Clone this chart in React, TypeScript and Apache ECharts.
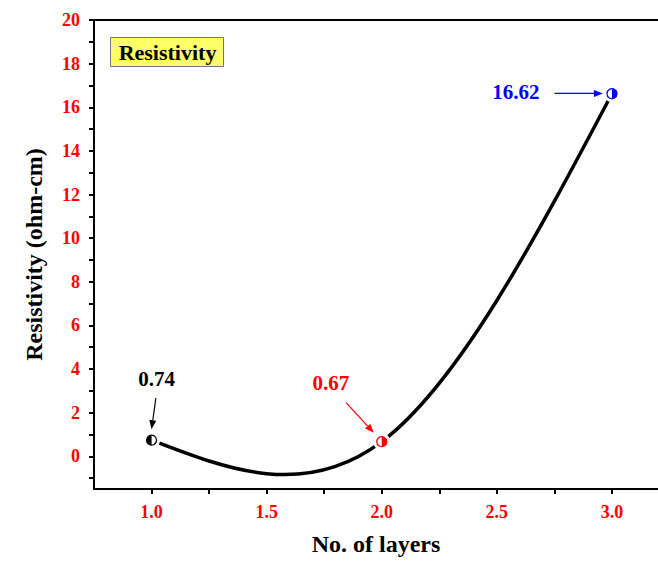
import React, { useEffect, useRef } from "react";
import * as echarts from "echarts";

// ---- data ----
const layers = [1, 2, 3];
const resistivity = [0.74, 0.67, 16.62];
const pointLabels = ["0.74", "0.67", "16.62"];
const pointColors = ["#000000", "#ff0000", "#0000ff"];
const xTickLabels = ["1.0", "1.5", "2.0", "2.5", "3.0"];
const yTickLabels = ["0", "2", "4", "6", "8", "10", "12", "14", "16", "18", "20"];
const legendText = "Resistivity";
const xName = "No. of layers";
const yName = "Resistivity (ohm-cm)";

// ---- style / layout (pixel offsets of annotations relative to their point) ----
const FONT = '"Liberation Serif", "Times New Roman", serif';
const ANNOT = [
  { tx: 5, ty: -61, ax1: 4.3, ay1: -42, ax2: 0, ay2: -11 },
  { tx: -51, ty: -59, ax1: -35.7, ay1: -39, ax2: -8, ay2: -9 },
  { tx: -96, ty: -1.3, ax1: -57.5, ay1: -0.3, ax2: -9, ay2: -0.3 },
];
// filled half of each marker: "left" or "right"
const HALF = ["left", "right", "right"];

// natural cubic spline moments (second derivatives) through the data points
function splineMoments(xs: number[], ys: number[]) {
  const n = xs.length;
  const M = new Array(n).fill(0);
  if (n < 3) return M;
  const a: number[] = [], b: number[] = [], c: number[] = [], d: number[] = [];
  for (let i = 1; i < n - 1; i++) {
    const h0 = xs[i] - xs[i - 1];
    const h1 = xs[i + 1] - xs[i];
    a.push(h0);
    b.push(2 * (h0 + h1));
    c.push(h1);
    d.push(6 * ((ys[i + 1] - ys[i]) / h1 - (ys[i] - ys[i - 1]) / h0));
  }
  const m = b.length;
  for (let i = 1; i < m; i++) {
    const w = a[i] / b[i - 1];
    b[i] -= w * c[i - 1];
    d[i] -= w * d[i - 1];
  }
  const sol = new Array(m);
  sol[m - 1] = d[m - 1] / b[m - 1];
  for (let i = m - 2; i >= 0; i--) sol[i] = (d[i] - c[i] * sol[i + 1]) / b[i];
  for (let i = 0; i < m; i++) M[i + 1] = sol[i];
  return M;
}

export default function App() {
  const ref = useRef<HTMLDivElement>(null);

  useEffect(() => {
    if (!ref.current) return;
    const chart = echarts.init(ref.current, undefined, { renderer: "svg" });
    const M = splineMoments(layers, resistivity);
    const data = layers.map((x, i) => [x, resistivity[i]]);

    const round = (v: number) => Math.round(v * 1000) / 1000;

    chart.setOption({
      animation: false,
      backgroundColor: "#ffffff",
      grid: { left: 94, right: 0, top: 20, bottom: 72 },
      xAxis: [
        {
          type: "value",
          min: 0.75,
          max: 3.2,
          interval: 0.25,
          name: xName,
          nameLocation: "middle",
          nameGap: 43,
          nameTextStyle: { color: "#000", fontSize: 24, fontWeight: "bold", fontFamily: FONT },
          axisLine: { show: true, onZero: false, lineStyle: { color: "#000", width: 2 } },
          axisTick: { show: true, inside: false, length: 5, lineStyle: { color: "#000", width: 2 } },
          axisLabel: {
            color: "#ff0000",
            fontSize: 18,
            fontWeight: "bold",
            fontFamily: FONT,
            margin: 14,
            showMinLabel: false,
            showMaxLabel: false,
            formatter: (v: number) => {
              const s = round(v).toFixed(2);
              const t = round(v).toFixed(1);
              return Number(s) === Number(t) && xTickLabels.includes(t) ? t : "";
            },
          },
          splitLine: { show: false },
        },
        {
          type: "value",
          position: "top",
          min: 0.75,
          max: 3.2,
          axisLine: { show: true, onZero: false, lineStyle: { color: "#000", width: 2 } },
          axisTick: { show: false },
          axisLabel: { show: false },
          splitLine: { show: false },
        },
      ],
      yAxis: {
        type: "value",
        min: -1.5,
        max: 20,
        minInterval: 1,
        maxInterval: 1,
        splitNumber: 20,
        name: yName,
        nameLocation: "middle",
        nameGap: 48,
        nameTextStyle: { color: "#000", fontSize: 24, fontWeight: "bold", fontFamily: FONT },
        axisLine: { show: true, onZero: false, lineStyle: { color: "#000", width: 2 } },
        axisTick: { show: true, inside: false, length: 5, lineStyle: { color: "#000", width: 2 } },
        axisLabel: {
          color: "#ff0000",
          fontSize: 18,
          fontWeight: "bold",
          fontFamily: FONT,
          margin: 14,
          showMinLabel: false,
          formatter: (v: number) => {
            const s = String(round(v));
            return yTickLabels.includes(s) ? s : "";
          },
        },
        splitLine: { show: false },
      },
      graphic: [
        {
          type: "group",
          left: 110,
          top: 37,
          z: 100,
          children: [
            {
              type: "rect",
              shape: { x: 0, y: 0, width: 113, height: 29 },
              style: { fill: "#ffff66", stroke: "#777777", lineWidth: 1 },
            },
            {
              type: "text",
              x: 57,
              y: 15,
              style: {
                text: legendText,
                fill: "#000",
                fontSize: 22,
                fontWeight: "bold",
                fontFamily: FONT,
                align: "center",
                verticalAlign: "middle",
              },
            },
          ],
        },
      ],
      series: [
        {
          type: "custom",
          name: "curve",
          data,
          encode: { x: 0, y: 1 },
          z: 2,
          renderItem: (params: any, api: any) => {
            const i = params.dataIndex;
            if (i >= layers.length - 1) return { type: "group", children: [] };
            const x0 = layers[i], x1 = layers[i + 1];
            const y0 = resistivity[i], y1 = resistivity[i + 1];
            const h = x1 - x0;
            const d0 = (y1 - y0) / h - (h * (2 * M[i] + M[i + 1])) / 6;
            const d1 = (y1 - y0) / h + (h * (M[i] + 2 * M[i + 1])) / 6;
            const p0 = api.coord([x0, y0]);
            const p1 = api.coord([x1, y1]);
            const c0 = api.coord([x0 + h / 3, y0 + (d0 * h) / 3]);
            const c1 = api.coord([x1 - h / 3, y1 - (d1 * h) / 3]);
            return {
              type: "bezierCurve",
              shape: {
                x1: p0[0], y1: p0[1], x2: p1[0], y2: p1[1],
                cpx1: c0[0], cpy1: c0[1], cpx2: c1[0], cpy2: c1[1],
              },
              style: { stroke: "#000", lineWidth: 3.5, fill: "none", lineCap: "butt" },
            };
          },
        },
        {
          type: "custom",
          name: "points",
          data,
          encode: { x: 0, y: 1 },
          z: 3,
          renderItem: (params: any, api: any) => {
            const i = params.dataIndex;
            const p = api.coord([api.value(0), api.value(1)]);
            const col = pointColors[i];
            const o = ANNOT[i];
            const ax1 = p[0] + o.ax1, ay1 = p[1] + o.ay1;
            const ax2 = p[0] + o.ax2, ay2 = p[1] + o.ay2;
            const dx = ax2 - ax1, dy = ay2 - ay1;
            const len = Math.sqrt(dx * dx + dy * dy);
            const ux = dx / len, uy = dy / len;
            const hl = 9, hw = 3.5;
            const bx = ax2 - ux * hl, by = ay2 - uy * hl;
            const left = HALF[i] === "left";
            return {
              type: "group",
              children: [
                { type: "circle", shape: { cx: p[0], cy: p[1], r: 8.5 }, style: { fill: "#ffffff" } },
                { type: "circle", shape: { cx: p[0], cy: p[1], r: 5 }, style: { fill: "#ffffff", stroke: col, lineWidth: 1.3 } },
                {
                  type: "sector",
                  shape: {
                    cx: p[0], cy: p[1], r0: 0, r: 5,
                    startAngle: left ? Math.PI / 2 : -Math.PI / 2,
                    endAngle: left ? (3 * Math.PI) / 2 : Math.PI / 2,
                    clockwise: true,
                  },
                  style: { fill: col },
                },
                {
                  type: "line",
                  shape: { x1: ax1, y1: ay1, x2: bx, y2: by },
                  style: { stroke: col, lineWidth: 1.2 },
                },
                {
                  type: "polygon",
                  shape: {
                    points: [
                      [ax2, ay2],
                      [bx - uy * hw, by + ux * hw],
                      [bx + uy * hw, by - ux * hw],
                    ],
                  },
                  style: { fill: col },
                },
                {
                  type: "text",
                  x: p[0] + o.tx,
                  y: p[1] + o.ty,
                  style: {
                    text: pointLabels[i],
                    fill: col,
                    fontSize: 21,
                    fontWeight: "bold",
                    fontFamily: FONT,
                    align: "center",
                    verticalAlign: "middle",
                  },
                },
              ],
            };
          },
        },
      ],
    });

    return () => chart.dispose();
  }, []);

  return (
    <div
      ref={ref}
      style={{ position: "fixed", left: 0, top: 0, width: 658, height: 561, background: "#fff" }}
    />
  );
}
